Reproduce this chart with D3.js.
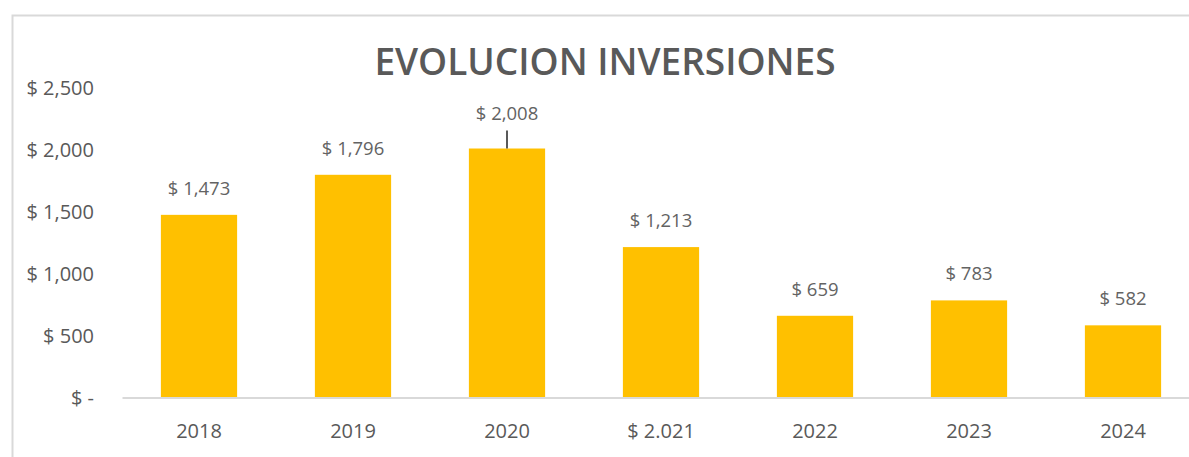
<!DOCTYPE html>
<html>
<head>
<meta charset="utf-8">
<script src="https://cdn.jsdelivr.net/npm/d3@7"></script>
<style>
  body { margin: 0; background: #fff; }
  text { font-family: "Open Sans", sans-serif; fill: #595959; }
</style>
</head>
<body>
<svg></svg>
<script>
// data
var categories = ["2018", "2019", "2020", "$ 2.021", "2022", "2023", "2024"];
var values = [1473, 1796, 2008, 1213, 659, 783, 582];
var yTicks = [0, 500, 1000, 1500, 2000, 2500];
var title = "EVOLUCION INVERSIONES";

var width = 1189;
var height = 457;
var baseline = 397.5;
var plotTop = 87.5;

var svg = d3.select("svg")
	.attr("width", width)
	.attr("height", height);

// chart frame (right and bottom edges fall outside the picture)
svg.append("rect")
	.attr("x", 12.5)
	.attr("y", 15.5)
	.attr("width", 1200)
	.attr("height", 460)
	.attr("fill", "none")
	.attr("stroke", "#d9d9d9")
	.attr("stroke-width", 2);

var xScale = d3.scaleBand()
	.domain(categories)
	.range([122, 122 + 154 * categories.length])
	.paddingInner(0.505)
	.paddingOuter(0.2525);

var yScale = d3.scaleLinear()
	.domain([0, 2500])
	.range([baseline, plotTop]);

var fmt = d3.format(",");
function money(v) { return v === 0 ? "$ -" : "$ " + fmt(v); }

// y axis labels only, no line
var yAxis = svg.append("g")
	.attr("transform", "translate(94,0)")
	.call(d3.axisLeft(yScale).tickValues(yTicks).tickFormat(money).tickSize(0).tickPadding(0));
yAxis.select(".domain").remove();
yAxis.selectAll("text")
	.style("font-size", "20px")
	.attr("fill", "#636363")
	.attr("dy", "0.35em");

// bars
svg.selectAll("rect.bar")
	.data(values)
	.enter()
	.append("rect")
	.classed("bar", true)
	.attr("x", (d, i) => xScale(categories[i]))
	.attr("y", d => yScale(d))
	.attr("width", xScale.bandwidth())
	.attr("height", d => baseline - yScale(d))
	.attr("fill", "#ffc000");

// x axis
var xAxis = svg.append("g")
	.attr("transform", `translate(0, ${baseline})`)
	.call(d3.axisBottom(xScale).tickSize(0).tickPadding(0));
xAxis.select(".domain")
	.attr("stroke", "#d9d9d9")
	.attr("stroke-width", 2);
xAxis.selectAll("text")
	.attr("y", 40)
	.attr("dy", 0)
	.style("font-size", "20px")
	.attr("fill", "#636363");

// value labels; 2020 sits higher with a leader line
var lift = [0, 0, 1, 0, 0, 0, 0];
svg.selectAll("text.value")
	.data(values)
	.enter()
	.append("text")
	.classed("value", true)
	.attr("x", (d, i) => xScale(categories[i]) + xScale.bandwidth() / 2)
	.attr("y", (d, i) => yScale(d) - 20 - lift[i] * 9)
	.attr("text-anchor", "middle")
	.style("font-size", "18.5px")
	.style("fill", "#636363")
	.text(d => money(d));

values.forEach((d, i) => {
	if (!lift[i]) return;
	var cx = xScale(categories[i]) + xScale.bandwidth() / 2;
	svg.append("line")
		.attr("x1", cx).attr("x2", cx)
		.attr("y1", yScale(d) - 18)
		.attr("y2", yScale(d))
		.attr("stroke", "#595959")
		.attr("stroke-width", 2);
});

svg.append("text")
	.attr("x", 605)
	.attr("y", 75)
	.attr("text-anchor", "middle")
	.style("font-size", "37px")
	.style("font-weight", 600)
	.text(title);
</script>
</body>
</html>
